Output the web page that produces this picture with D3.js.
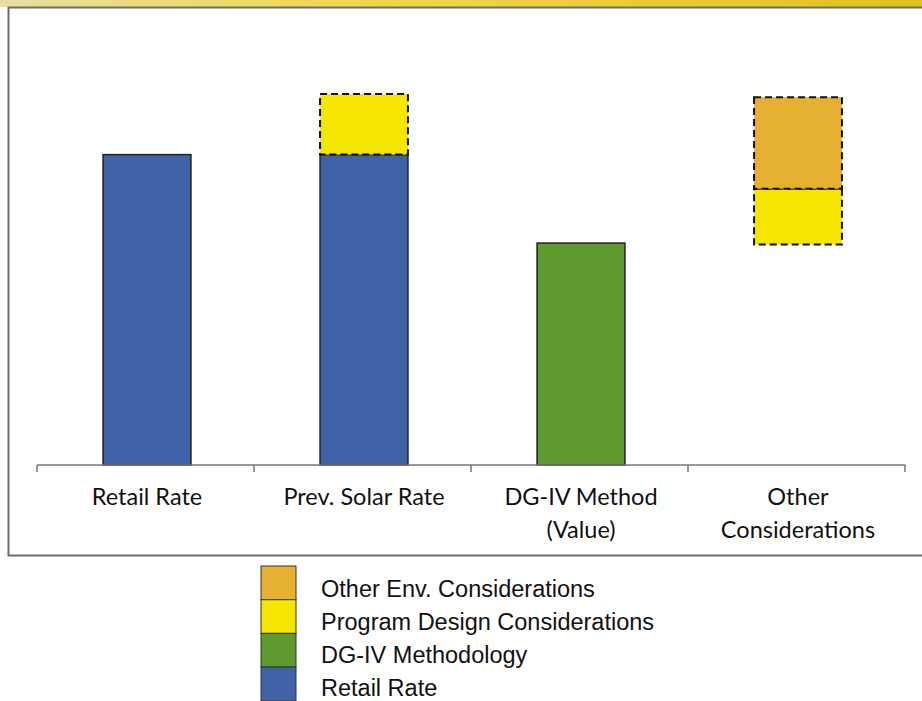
<!DOCTYPE html>
<html>
<head>
<meta charset="utf-8">
<script src="https://cdn.jsdelivr.net/npm/d3@7"></script>
<style>
  body { margin: 0; background: #fff; }
  svg { display: block; }
</style>
</head>
<body>
<script>
// categories along the x axis
const categories = ["Retail Rate", "Prev. Solar Rate", "DG-IV Method\n(Value)", "Other\nConsiderations"];

// series values (arbitrary units)
const baseOffset = [0, 0, 0, 7.1];      // invisible offset for the floating bar
const retailRate = [10, 10, 0, 0];
const dgivMethod = [0, 0, 7.15, 0];
const programDesign = [0, 1.95, 0, 1.8];
const otherEnv = [0, 0, 0, 2.95];

const legendLabels = ["Other Env. Considerations", "Program Design Considerations", "DG-IV Methodology", "Retail Rate"];

const W = 922, H = 701;
const margin = {left: 37, right: 17, top: 77, bottom: 236};
const baseY = H - margin.bottom;

const svg = d3.select("body").append("svg")
  .attr("width", W).attr("height", H);

// top yellow band
const grad = svg.append("defs").append("linearGradient").attr("id", "band");
grad.append("stop").attr("offset", "0%").attr("stop-color", "#e8dfa0");
grad.append("stop").attr("offset", "40%").attr("stop-color", "#efd84a");
grad.append("stop").attr("offset", "100%").attr("stop-color", "#e2c21c");
svg.append("rect").attr("x", 0).attr("y", 0).attr("width", W).attr("height", 7)
  .attr("fill", "url(#band)");

// chart frame
svg.append("rect").attr("x", 8.5).attr("y", 7.5).attr("width", W + 10).attr("height", 548)
  .attr("fill", "#fff").attr("stroke", "#6d6d6d").attr("stroke-width", 2);

const keys = ["base", "retail", "dgiv", "pdc", "env"];
const data = categories.map((c, i) => ({
  cat: c, base: baseOffset[i], retail: retailRate[i], dgiv: dgivMethod[i],
  pdc: programDesign[i], env: otherEnv[i]
}));

const x = d3.scaleBand().domain(categories)
  .range([margin.left, W - margin.right]).paddingInner(0.595).paddingOuter(0.2975);
const y = d3.scaleLinear().domain([0, 12.5]).range([baseY, margin.top]);
const barShift = 1.5;

const fills = {base: "none", retail: "#4062a6", dgiv: "#5e9a2f", pdc: "#f4e600", env: "#e6b132"};
const dashed = {pdc: true, env: true};

const stacked = d3.stack().keys(keys)(data);

const g = svg.append("g");
stacked.filter(s => s.key !== "base").forEach(s => {
  g.append("g").selectAll("rect")
    .data(s.filter(d => d[1] - d[0] > 0))
    .join("rect")
      .attr("x", d => x(d.data.cat) + barShift)
      .attr("y", d => y(d[1]))
      .attr("width", x.bandwidth())
      .attr("height", d => y(d[0]) - y(d[1]))
      .attr("fill", fills[s.key])
      .attr("stroke", dashed[s.key] ? "#111" : "#222")
      .attr("stroke-width", dashed[s.key] ? 2 : 1.5)
      .attr("stroke-dasharray", dashed[s.key] ? "7,4" : null);
});

// x axis with tick marks between categories
const axis = svg.append("g").attr("transform", `translate(0,${baseY})`);
axis.append("line").attr("x1", margin.left).attr("x2", W - margin.right)
  .attr("stroke", "#777").attr("stroke-width", 1.5);
const bounds = categories.map(c => x(c) - x.step() * x.paddingInner() / 2)
  .concat([W - margin.right]);
axis.selectAll(".tk").data(bounds).join("line")
  .attr("x1", d => d).attr("x2", d => d).attr("y1", 0).attr("y2", 7)
  .attr("stroke", "#777").attr("stroke-width", 1.5);

axis.selectAll(".lbl").data(categories).join("text")
  .attr("text-anchor", "middle")
  .attr("font-family", "Lato, 'Open Sans', sans-serif")
  .attr("font-size", 23.5)
  .attr("fill", "#111")
  .each(function (d) {
    const t = d3.select(this);
    d.split("\n").forEach((line, i) => {
      t.append("tspan").attr("x", x(d) + x.bandwidth() / 2 + barShift)
        .attr("y", 40 + i * 33).text(line);
    });
  });

// legend
const legColors = [fills.env, fills.pdc, fills.dgiv, fills.retail];
const leg = svg.append("g").attr("transform", "translate(261,566)");
leg.selectAll("rect").data(legColors).join("rect")
  .attr("x", 0).attr("y", (d, i) => i * 33.7)
  .attr("width", 35).attr("height", 33.7)
  .attr("fill", d => d).attr("stroke", "#333").attr("stroke-width", 1);
leg.selectAll("text").data(legendLabels).join("text")
  .attr("x", 60).attr("y", (d, i) => i * 33 + 31)
  .attr("font-family", "'Liberation Sans', Arial, sans-serif")
  .attr("font-size", 23.5)
  .attr("fill", "#111")
  .text(d => d);
</script>
</body>
</html>
